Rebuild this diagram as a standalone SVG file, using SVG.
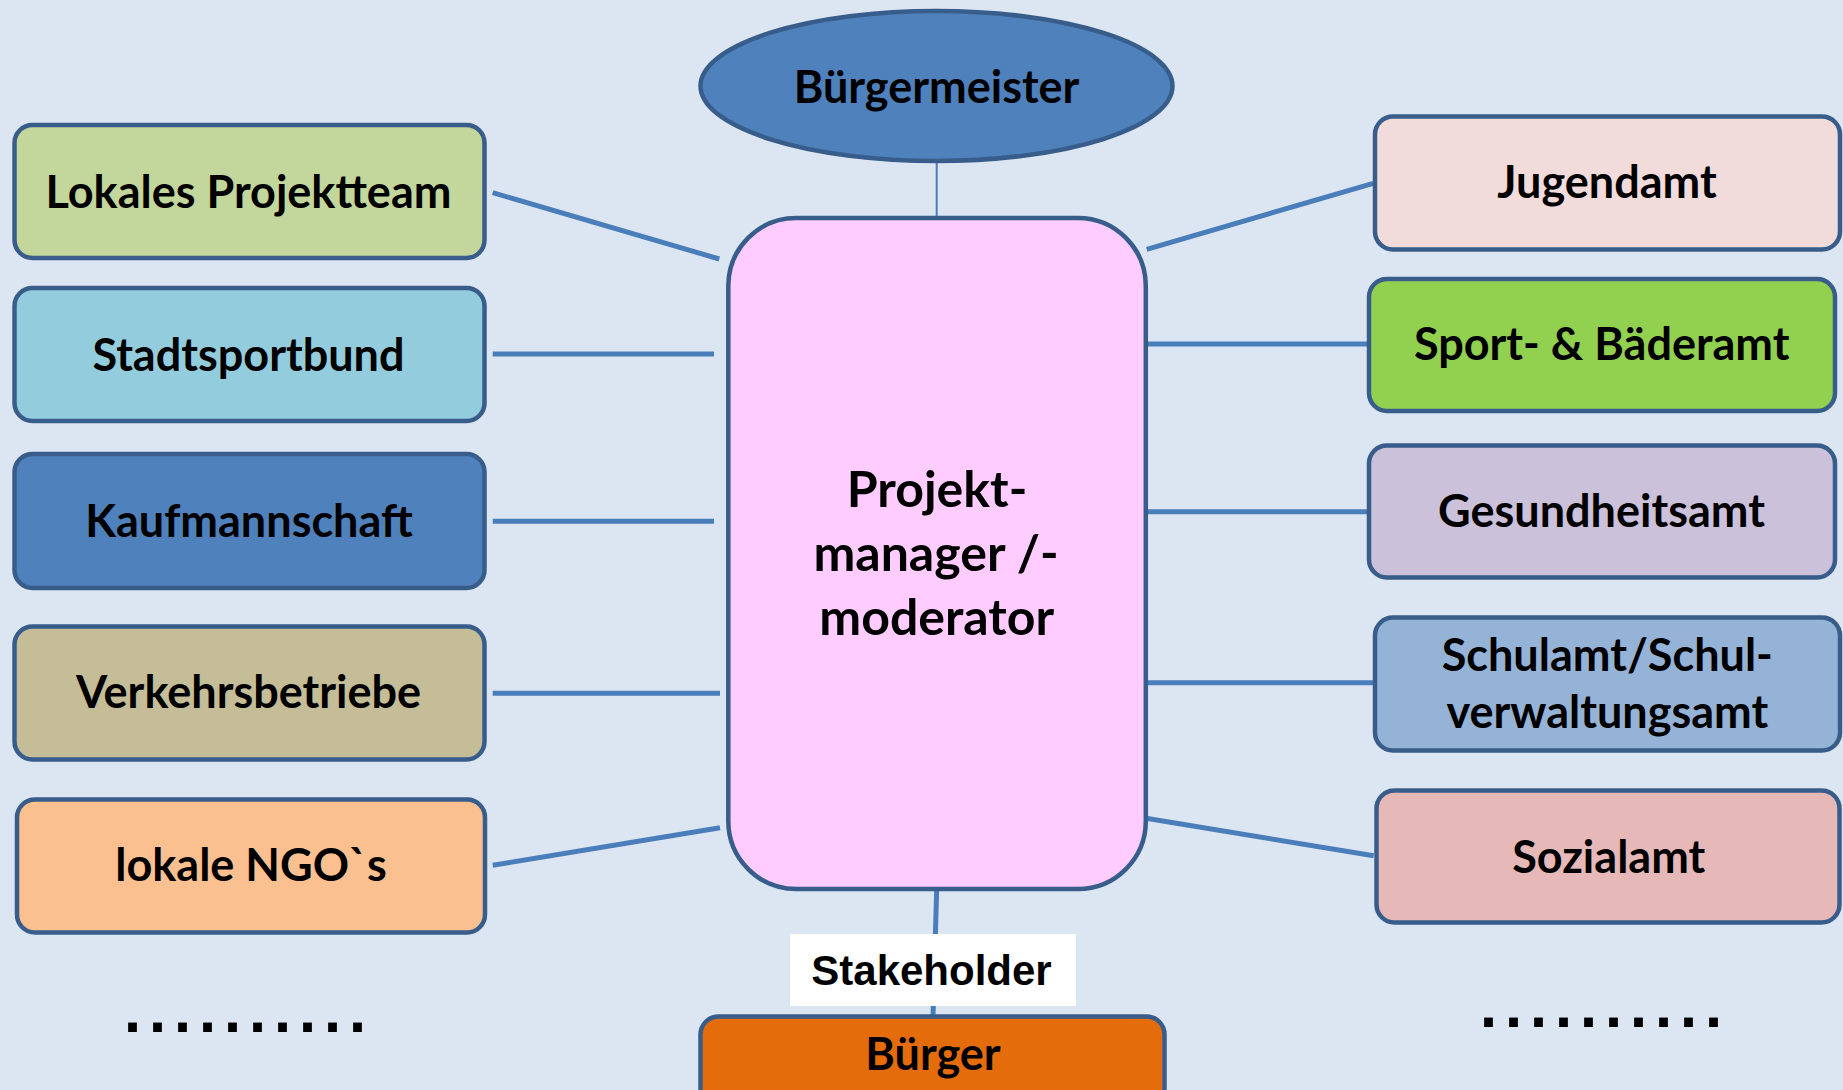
<svg xmlns="http://www.w3.org/2000/svg" width="1843" height="1090" viewBox="0 0 1843 1090">
<style>
.box{stroke:#385D8A;stroke-width:4.5}
.lbl{font-family:Lato,"Liberation Sans",sans-serif;font-weight:700;font-size:45px;fill:#000;text-anchor:middle}
.ctr{font-size:50px}
.conn{stroke:#4A7EBB;stroke-width:5;fill:none}
.dots{font-family:"DejaVu Sans",sans-serif;font-weight:700;font-size:50px;fill:#000;letter-spacing:6px}
</style>
<rect width="1843" height="1090" fill="#DCE6F2"/>
<g id="connectors">
<line class="conn" x1="936.7" y1="163" x2="936.7" y2="218" style="stroke-width:2"/>
<line class="conn" x1="492.7" y1="192.7" x2="719.3" y2="259"/>
<line class="conn" x1="492.7" y1="354" x2="714" y2="354"/>
<line class="conn" x1="492.7" y1="521.3" x2="714" y2="521.3"/>
<line class="conn" x1="492.7" y1="693.3" x2="720" y2="693.3"/>
<line class="conn" x1="492.7" y1="865.3" x2="720" y2="827.7"/>
<line class="conn" x1="1146.7" y1="249.3" x2="1373.3" y2="183.3"/>
<line class="conn" x1="1146" y1="344" x2="1367.7" y2="344"/>
<line class="conn" x1="1146" y1="511.7" x2="1367.7" y2="511.7"/>
<line class="conn" x1="1146" y1="682.7" x2="1373.7" y2="682.7"/>
<line class="conn" x1="1146" y1="818.3" x2="1373.7" y2="855.7"/>
<line class="conn" x1="936.7" y1="889" x2="933" y2="1016"/>
</g>
<g id="buergermeister">
<ellipse class="box" cx="936.5" cy="86" rx="236" ry="75" fill="#4F81BD"/>
<text class="lbl" x="936.5" y="103">Bürgermeister</text>
</g>
<g id="projektmanager">
<rect class="box" x="728.3" y="218" width="417.5" height="671" rx="68" fill="#FFCCFF"/>
<text class="lbl ctr" x="937" y="506.7">Projekt-</text>
<text class="lbl ctr" x="936" y="570.5">manager /-</text>
<text class="lbl ctr" x="936.7" y="635">moderator</text>
</g>
<g id="lokales-projektteam">
<rect class="box" x="14.5" y="125" width="470" height="133" rx="18" fill="#C3D69B"/>
<text class="lbl" x="248.5" y="208.3">Lokales Projektteam</text>
</g>
<g id="stadtsportbund">
<rect class="box" x="14.5" y="288" width="470" height="133" rx="18" fill="#93CDDD"/>
<text class="lbl" x="248.5" y="370.7">Stadtsportbund</text>
</g>
<g id="kaufmannschaft">
<rect class="box" x="14.5" y="454" width="470" height="134" rx="18" fill="#4F81BD"/>
<text class="lbl" x="249" y="536.7">Kaufmannschaft</text>
</g>
<g id="verkehrsbetriebe">
<rect class="box" x="14.5" y="626.5" width="470" height="133" rx="18" fill="#C4BD97"/>
<text class="lbl" x="248.5" y="708.3">Verkehrsbetriebe</text>
</g>
<g id="lokale-ngos">
<rect class="box" x="17" y="799.5" width="468" height="133" rx="18" fill="#FAC090"/>
<text class="lbl" x="251" y="881">lokale NGO`s</text>
</g>
<g id="jugendamt">
<rect class="box" x="1375" y="116.5" width="465" height="133" rx="18" fill="#F2DCDB"/>
<text class="lbl" x="1607" y="198">Jugendamt</text>
</g>
<g id="sport-baederamt">
<rect class="box" x="1369" y="279" width="466" height="132" rx="18" fill="#92D050"/>
<text class="lbl" x="1601.7" y="360">Sport- &amp; Bäderamt</text>
</g>
<g id="gesundheitsamt">
<rect class="box" x="1369" y="445.5" width="466" height="132" rx="18" fill="#CCC1DA"/>
<text class="lbl" x="1601.5" y="527">Gesundheitsamt</text>
</g>
<g id="schulamt">
<rect class="box" x="1375" y="617.5" width="465" height="133" rx="18" fill="#95B3D7"/>
<text class="lbl" x="1607.3" y="670.7">Schulamt/Schul-</text>
<text class="lbl" x="1607.3" y="728.3">verwaltungsamt</text>
</g>
<g id="sozialamt">
<rect class="box" x="1376.5" y="790.5" width="463" height="132" rx="18" fill="#E6B9B8"/>
<text class="lbl" x="1608.7" y="872.7">Sozialamt</text>
</g>
<g id="stakeholder">
<rect x="790" y="934" width="286" height="72" fill="#FFFFFF"/>
<text x="931.5" y="985" font-family="'Liberation Sans',Arial,sans-serif" font-weight="700" font-size="42" text-anchor="middle">Stakeholder</text>
</g>
<g id="buerger">
<rect class="box" x="700.5" y="1016.5" width="464" height="100" rx="18" fill="#E46C0A"/>
<text class="lbl" x="933" y="1070">Bürger</text>
</g>
<g id="dots">
<text class="dots" x="123" y="1032">..........</text>
<text class="dots" x="1479" y="1027">..........</text>
</g>
</svg>
